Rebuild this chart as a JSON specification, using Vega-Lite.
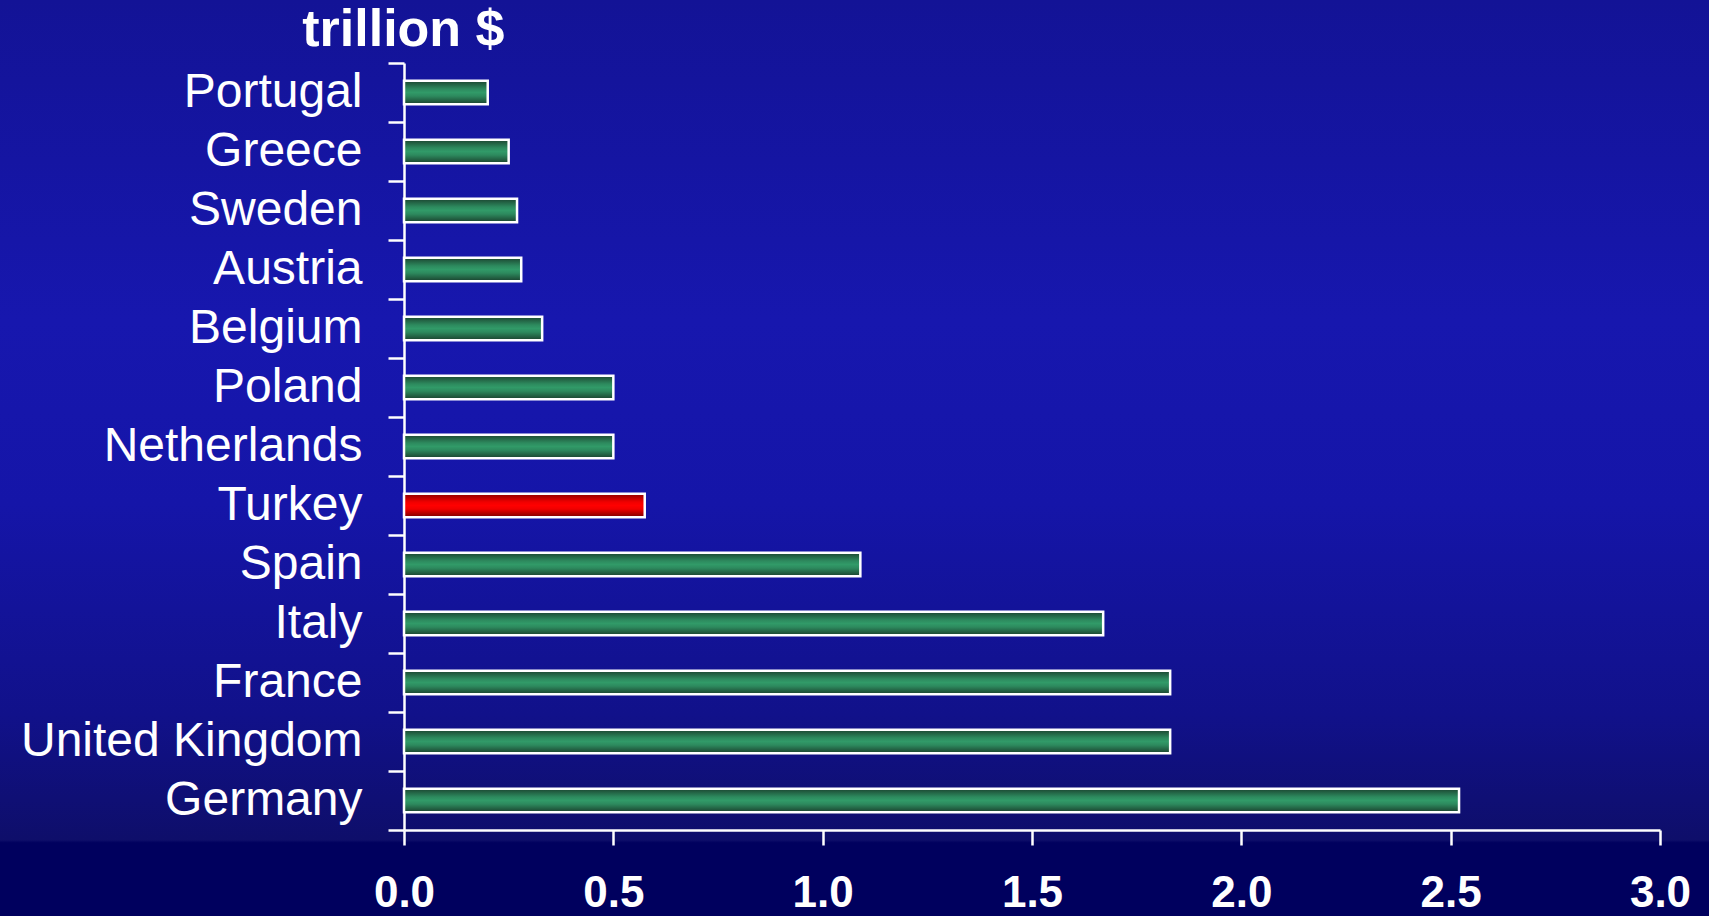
{
  "$schema": "https://vega.github.io/schema/vega-lite/v6.json",
  "width": 1709,
  "height": 916,
  "autosize": {"type": "none"},
  "padding": 0,
  "background": "#12128f",
  "config": {
    "font": "Liberation Sans",
    "view": {
      "stroke": null,
      "fill": {
        "gradient": "linear",
        "x1": 0, "y1": 0, "x2": 0, "y2": 1,
        "stops": [
          {"offset": 0, "color": "#131396"},
          {"offset": 0.35, "color": "#1717ae"},
          {"offset": 0.55, "color": "#1515a8"},
          {"offset": 0.78, "color": "#11118a"},
          {"offset": 0.917, "color": "#0e0e6a"},
          {"offset": 0.92, "color": "#00005e"},
          {"offset": 1, "color": "#00005e"}
        ]
      }
    }
  },
  "data": {
    "values": [
      {"country": "Portugal", "value": 0.20},
      {"country": "Greece", "value": 0.25},
      {"country": "Sweden", "value": 0.27},
      {"country": "Austria", "value": 0.28},
      {"country": "Belgium", "value": 0.33},
      {"country": "Poland", "value": 0.50},
      {"country": "Netherlands", "value": 0.50},
      {"country": "Turkey", "value": 0.575},
      {"country": "Spain", "value": 1.09},
      {"country": "Italy", "value": 1.67},
      {"country": "France", "value": 1.83},
      {"country": "United Kingdom", "value": 1.83},
      {"country": "Germany", "value": 2.52}
    ]
  },
  "mark": {"type": "bar", "stroke": "#ffffff", "strokeWidth": 2.5, "cornerRadius": 0, "height": {"band": 0.4}},
  "encoding": {
    "y": {
      "field": "country",
      "type": "nominal",
      "sort": null,
      "scale": {"range": [63, 830], "paddingInner": 0, "paddingOuter": 0},
      "axis": {
        "offset": -404,
        "title": "trillion $",
        "titleAngle": 0,
        "titleX": 100,
        "titleY": 29,
        "titleAlign": "right",
        "titleBaseline": "middle",
        "titleFont": "Liberation Sans",
        "titleFontSize": 52,
        "titleFontWeight": "bold",
        "titleColor": "#ffffff",
        "labelFont": "Liberation Sans",
        "labelFontSize": 48,
        "labelColor": "#ffffff",
        "labelPadding": 26,
        "labelLimit": 500,
        "tickBand": "extent",
        "tickSize": 16,
        "tickColor": "#ffffff",
        "tickWidth": 2.5,
        "domainColor": "#ffffff",
        "domainWidth": 2.5,
        "grid": false
      }
    },
    "x": {
      "field": "value",
      "type": "quantitative",
      "scale": {"domain": [0, 3], "nice": false, "range": [404, 1660]},
      "axis": {
        "offset": -86,
        "title": null,
        "values": [0, 0.5, 1, 1.5, 2, 2.5, 3],
        "format": ".1f",
        "labelFont": "Liberation Sans",
        "labelFontSize": 44,
        "labelFontWeight": "bold",
        "labelColor": "#ffffff",
        "labelPadding": 26,
        "labelFlush": false,
        "tickSize": 15,
        "tickColor": "#ffffff",
        "tickWidth": 2.5,
        "domainColor": "#ffffff",
        "domainWidth": 2.5,
        "grid": false
      }
    },
    "fill": {
      "condition": {
        "test": "datum.country === 'Turkey'",
        "value": {
          "gradient": "linear",
          "x1": 0, "y1": 0, "x2": 0, "y2": 1,
          "stops": [
            {"offset": 0, "color": "#8a0000"},
            {"offset": 0.35, "color": "#f00000"},
            {"offset": 0.5, "color": "#ff0000"},
            {"offset": 0.65, "color": "#f00000"},
            {"offset": 1, "color": "#7a0000"}
          ]
        }
      },
      "value": {
        "gradient": "linear",
        "x1": 0, "y1": 0, "x2": 0, "y2": 1,
        "stops": [
          {"offset": 0, "color": "#1b4430"},
          {"offset": 0.35, "color": "#2d8a5e"},
          {"offset": 0.5, "color": "#319a68"},
          {"offset": 0.65, "color": "#2d8a5e"},
          {"offset": 1, "color": "#1a402d"}
        ]
      }
    }
  }
}
